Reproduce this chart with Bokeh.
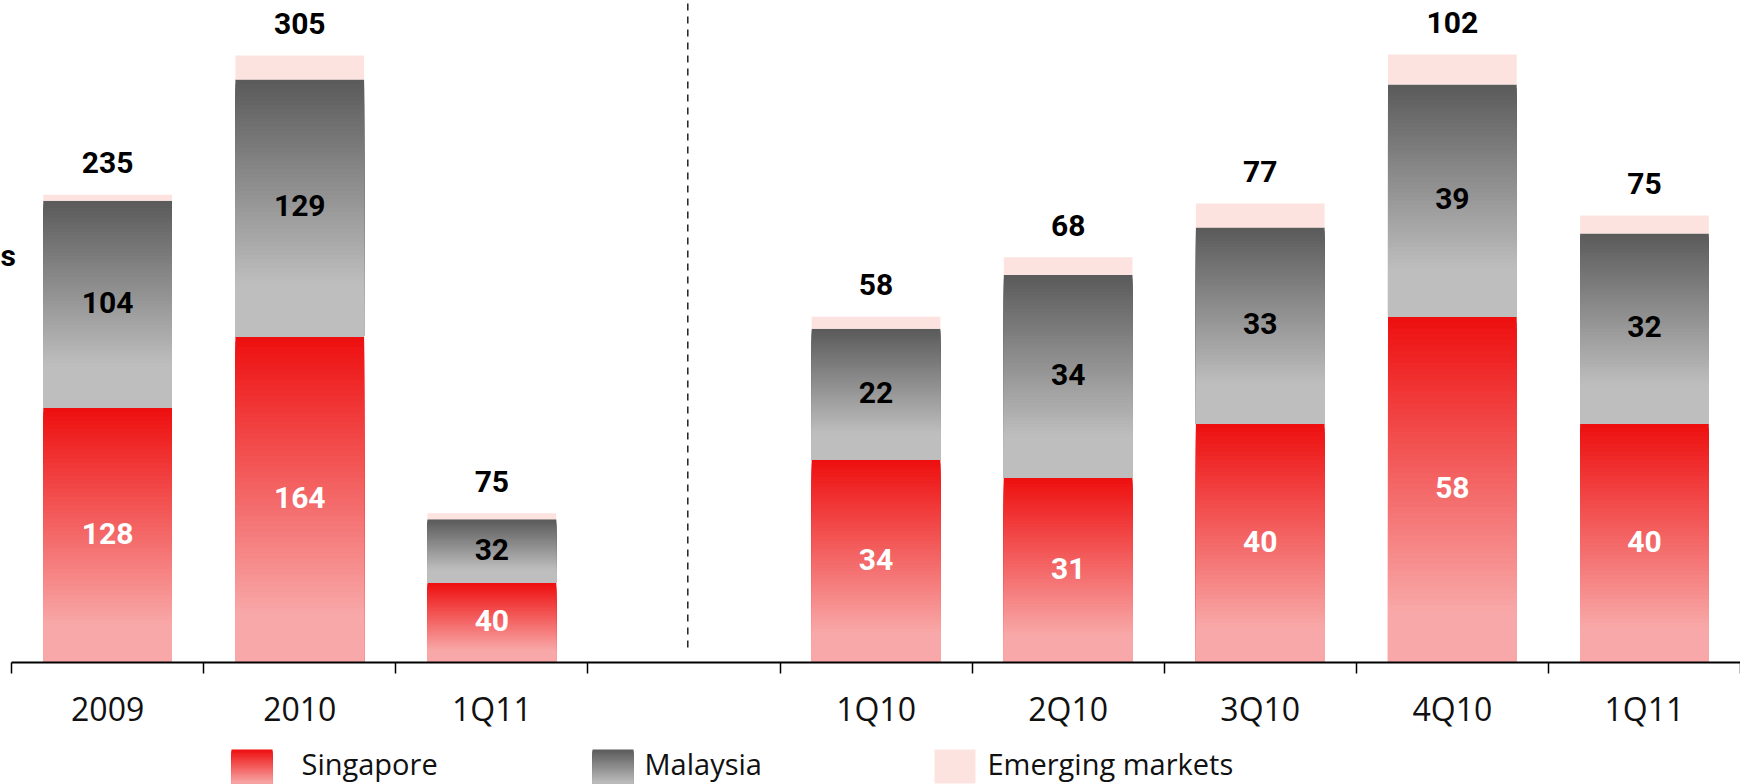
from bokeh.plotting import figure
from bokeh.models import Range1d, FixedTicker, Label
from bokeh.layouts import column
from bokeh.core.properties import value
from bokeh.embed import file_html
from bokeh.resources import INLINE

# ---------------- data ----------------
annual_labels = ["2009", "2010", "1Q11"]
annual_singapore = [128, 164, 40]
annual_malaysia = [104, 129, 32]
annual_emerging = [3, 12, 3]

quarter_labels = ["1Q10", "2Q10", "3Q10", "4Q10", "1Q11"]
quarter_singapore = [34, 31, 40, 58, 40]
quarter_malaysia = [22, 34, 33, 39, 32]
quarter_emerging = [2, 3, 4, 5, 3]

series_names = ["Singapore", "Malaysia", "Emerging markets"]

# ---------------- styling ----------------
RED_TOP, RED_BOT = (238, 14, 14), (248, 168, 168)
GRAY_TOP, GRAY_BOT = (90, 90, 90), (190, 190, 190)
EMERGING = "#FDE3DF"
FONT = value("Open Sans")
BOLD_FONT = value("Roboto")
BAR_W = 0.67

def mix(c0, c1, f):
    return "#%02x%02x%02x" % tuple(int(round(a + (b - a) * f)) for a, b in zip(c0, c1))

def gradient_quads(fig, xs, bottoms, tops, c_top, c_bot, reach, range_name=None, n=60):
    L, R, B, T, C = [], [], [], [], []
    for x, b, t in zip(xs, bottoms, tops):
        for i in range(n):
            top_i = t - (t - b) * i / n
            f = min(1.0, ((i + 0.5) / n) / reach)
            L.append(x - BAR_W / 2); R.append(x + BAR_W / 2)
            B.append(b); T.append(top_i); C.append(mix(c_top, c_bot, f))
    kw = dict(left=L, right=R, bottom=B, top=T, fill_color=C, line_color=None)
    if range_name:
        kw["y_range_name"] = range_name
    fig.quad(**kw)

# ---------------- main figure ----------------
FIG_W = 1740
MAIN_H = 732
FRAME_H = 662
SLOT_PX = 192.1
LEFT_PAD_PX = 11.1
LEFT_PX_PER_UNIT = 1.99
RIGHT_PX_PER_UNIT = 5.96

p = figure(width=FIG_W, height=MAIN_H,
           x_range=Range1d(0.5 - LEFT_PAD_PX / SLOT_PX, 0.5 + (FIG_W - LEFT_PAD_PX) / SLOT_PX),
           y_range=Range1d(0, FRAME_H / LEFT_PX_PER_UNIT),
           output_backend="svg", toolbar_location=None,
           y_axis_location=None,
           min_border_left=0, min_border_right=0, min_border_top=0,
           min_border_bottom=MAIN_H - FRAME_H)
p.extra_y_ranges = {"q": Range1d(0, FRAME_H / RIGHT_PX_PER_UNIT)}
p.outline_line_color = None
p.xgrid.visible = False
p.ygrid.visible = False
p.background_fill_color = "white"
p.border_fill_color = "white"

ax_x = [1, 2, 3]
q_x = [5, 6, 7, 8, 9]

def draw_group(xs, sg, my, em, range_name):
    sg_top = list(sg)
    my_top = [a + b for a, b in zip(sg, my)]
    tot = [a + b + c for a, b, c in zip(sg, my, em)]
    gradient_quads(p, xs, [0] * len(xs), sg_top, RED_TOP, RED_BOT, 0.85, range_name)
    gradient_quads(p, xs, sg_top, my_top, GRAY_TOP, GRAY_BOT, 0.8, range_name)
    kw = {"y_range_name": range_name} if range_name else {}
    p.quad(left=[x - BAR_W / 2 for x in xs], right=[x + BAR_W / 2 for x in xs],
           bottom=my_top, top=tot, fill_color=EMERGING, line_color=None, **kw)
    # labels
    p.text(x=xs, y=[v / 2 for v in sg], text=[str(v) for v in sg], text_font=BOLD_FONT,
           text_font_style="bold", text_font_size="30px", text_color="white",
           text_align="center", text_baseline="middle", y_offset=-2, **kw)
    p.text(x=xs, y=[a + b / 2 for a, b in zip(sg, my)], text=[str(v) for v in my], text_font=BOLD_FONT,
           text_font_style="bold", text_font_size="30px", text_color="black",
           text_align="center", text_baseline="middle", y_offset=-2, **kw)
    p.text(x=xs, y=tot, text=[str(v) for v in tot], text_font=BOLD_FONT,
           text_font_style="bold", text_font_size="30px", text_color="black",
           text_align="center", text_baseline="alphabetic", y_offset=-32, **kw)

draw_group(ax_x, annual_singapore, annual_malaysia, annual_emerging, None)
draw_group(q_x, quarter_singapore, quarter_malaysia, quarter_emerging, "q")

# dashed separator between the annual and quarterly panels
p.segment(x0=[4.02], y0=[7.5], x1=[4.02], y1=[FRAME_H / LEFT_PX_PER_UNIT],
          line_color="#222222", line_width=1.5, line_dash="7 6")

# left-edge label fragment
p.add_layout(Label(x=p.x_range.start, y=(FRAME_H - 255) / LEFT_PX_PER_UNIT, x_offset=0, text="s",
                   text_font="Roboto", text_font_style="bold", text_font_size="30px",
                   text_color="black", text_align="left", text_baseline="middle"))

# x axis: labels at slot centres, ticks at slot boundaries
xa = p.xaxis[0]
xa.bounds = (0.5, 9.5)
xa.ticker = FixedTicker(ticks=list(range(1, 10)), minor_ticks=[i + 0.5 for i in range(0, 10)])
overrides = {}
for x, lab in zip(ax_x, annual_labels):
    overrides[x] = lab
overrides[4] = ""
for x, lab in zip(q_x, quarter_labels):
    overrides[x] = lab
xa.major_label_overrides = overrides
xa.major_tick_out = 0
xa.major_tick_in = 0
xa.minor_tick_out = 11
xa.minor_tick_in = 0
xa.minor_tick_line_color = "black"
xa.minor_tick_line_width = 1.5
xa.axis_line_color = "black"
xa.axis_line_width = 2
xa.major_label_text_font = "Open Sans"
xa.major_label_text_font_size = "32px"
xa.major_label_text_color = "#111111"
xa.major_label_standoff = 13

# ---------------- legend strip ----------------
LEG_H = 784 - MAIN_H
leg = figure(width=FIG_W, height=LEG_H, x_range=Range1d(0, FIG_W), y_range=Range1d(0, LEG_H),
             output_backend="svg", toolbar_location=None,
             x_axis_location=None, y_axis_location=None, min_border=0,
             min_border_left=0, min_border_right=0, min_border_top=0, min_border_bottom=0)
leg.outline_line_color = None
leg.xgrid.visible = False
leg.ygrid.visible = False

sw_left = [231, 592, 934]
txt_left = [301, 644, 987]
SW_W = 41
sw_b, sw_t = 1, 35
n = 30
for idx, (c_top, c_bot, reach) in enumerate([(RED_TOP, RED_BOT, 1.0), (GRAY_TOP, GRAY_BOT, 1.0)]):
    L, R, B, T, C = [], [], [], [], []
    for i in range(n):
        L.append(sw_left[idx]); R.append(sw_left[idx] + SW_W)
        B.append(sw_b); T.append(sw_t - (sw_t - sw_b) * i / n)
        C.append(mix(c_top, c_bot, min(1, ((i + 0.5) / n) / reach)))
    leg.quad(left=L, right=R, bottom=B, top=T, fill_color=C, line_color=None)
leg.quad(left=[sw_left[2]], right=[sw_left[2] + SW_W], bottom=[sw_b], top=[sw_t],
         fill_color=EMERGING, line_color=None)
leg.text(x=txt_left, y=[21] * 3, text=series_names, text_font=FONT, text_font_size="29px",
         text_color="#111111", text_align="left", text_baseline="middle")

layout = column(p, leg, spacing=0)
open("out.html", "w").write(file_html(layout, INLINE))
